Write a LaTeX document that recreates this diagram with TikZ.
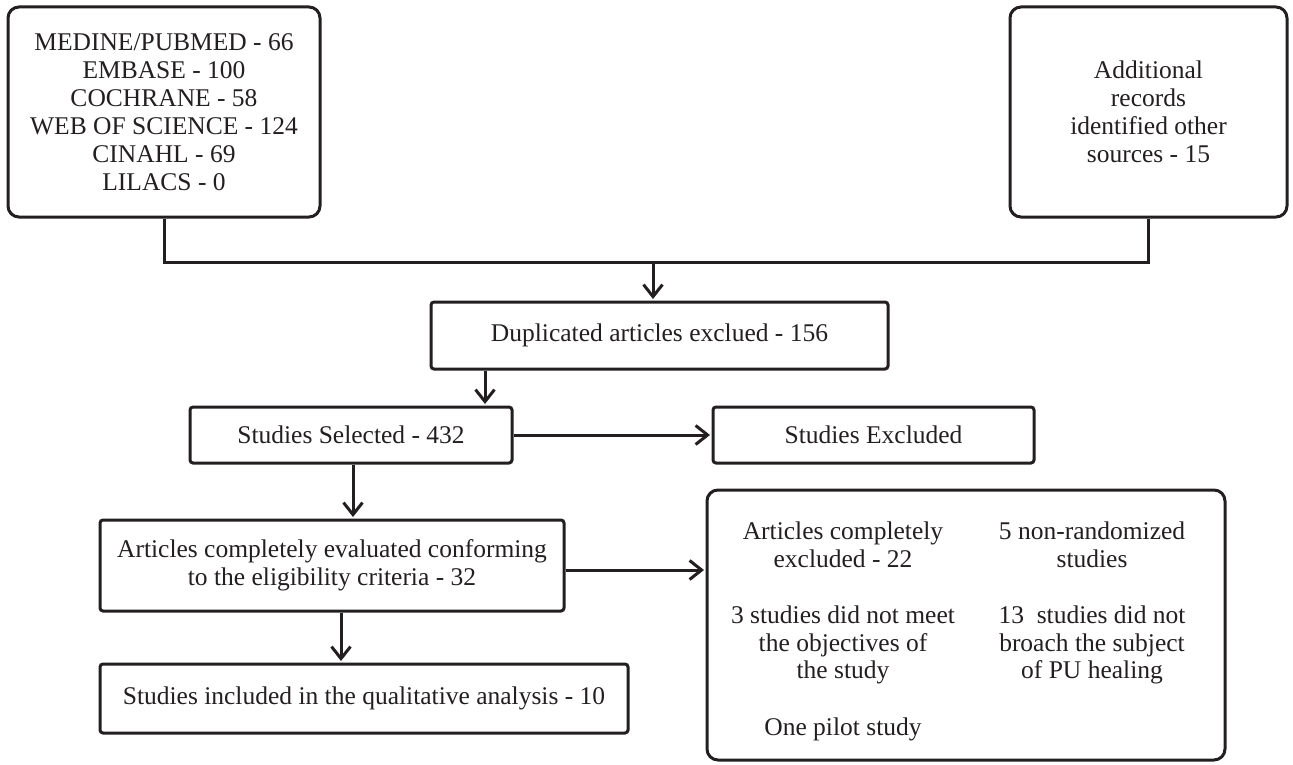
\documentclass[tikz,border=0pt]{standalone}
\usepackage{fontspec}
\setmainfont{Liberation Serif}
\usetikzlibrary{arrows.meta}
\definecolor{ink}{HTML}{231F20}
\begin{document}
\begin{tikzpicture}[x=1pt,y=-1pt,
  every node/.style={font=\fontsize{25.5}{28}\selectfont, text=ink},
  boxa/.style={draw=ink, line width=3pt, rounded corners=3pt, inner sep=0pt, align=center},
  boxr/.style={draw=ink, line width=3pt, rounded corners=11pt, inner sep=0pt, align=center},
  conn/.style={draw=ink, line width=3pt},
  arr/.style={conn, -{Straight Barb[length=12pt,width=19pt,line width=3pt]}, shorten >=1.5pt},
  txt/.style={align=center, inner sep=0pt, font=\fontsize{25.5}{27.5}\selectfont}]
\useasboundingbox (0,0) rectangle (1293,765);
% boxes
\node[boxr, minimum width=312pt, minimum height=210pt] (src) at (164,112)
  {MEDINE/PUBMED - 66\\EMBASE - 100\\COCHRANE - 58\\WEB OF SCIENCE - 124\\CINAHL - 69\\LILACS - 0};
\node[boxr, minimum width=277pt, minimum height=210pt] (add) at (1148.5,112)
  {Additional\\records\\identified other\\sources - 15};
\node[boxa, minimum width=457pt, minimum height=67pt] (dup) at (659.5,335.5) {Duplicated articles exclued - 156};
\node[boxa, minimum width=322pt, minimum height=56pt] (sel) at (351,435) {Studies Selected - 432};
\node[boxa, minimum width=321pt, minimum height=56pt] (exc) at (873.5,435) {Studies Excluded};
\node[boxa, minimum width=464pt, minimum height=91pt] (art) at (332,565.5)
  {Articles completely evaluated conforming\\to the eligibility criteria - 32};
\node[boxa, minimum width=528pt, minimum height=69pt] (inc) at (364,698.5) {Studies included in the qualitative analysis - 10};
\node[boxr, minimum width=518pt, minimum height=270pt] (exb) at (966,625) {};
% texts in the exclusion box
\node[txt] (t1) at (843,545) {Articles completely\\excluded - 22};
\node[txt] (t2) at (1092,545) {5 non-randomized\\studies};
\node[txt] (t3) at (843,645) {3 studies did not meet\\the objectives of\\the study};
\node[txt] (t4) at (1092,645) {13\ \ studies did not\\broach the subject\\of PU healing};
\node[txt] (t5) at (843,729) {One pilot study};
% connectors
\coordinate (j) at (653,262);
\draw[conn] (src.south) |- (j) -| (add.south);
\draw[arr] (j) -- (j |- dup.north);
\coordinate (c1) at (485,0);
\draw[arr] (c1 |- dup.south) -- (c1 |- sel.north);
\draw[arr] (sel.east) -- (exc.west);
\coordinate (c2) at (353,0);
\draw[arr] (c2 |- sel.south) -- (c2 |- art.north);
\coordinate (c3) at (0,570);
\draw[arr] (c3 -| art.east) -- (c3 -| exb.west);
\coordinate (c4) at (341,0);
\draw[arr] (c4 |- art.south) -- (c4 |- inc.north);
\end{tikzpicture}
\end{document}
